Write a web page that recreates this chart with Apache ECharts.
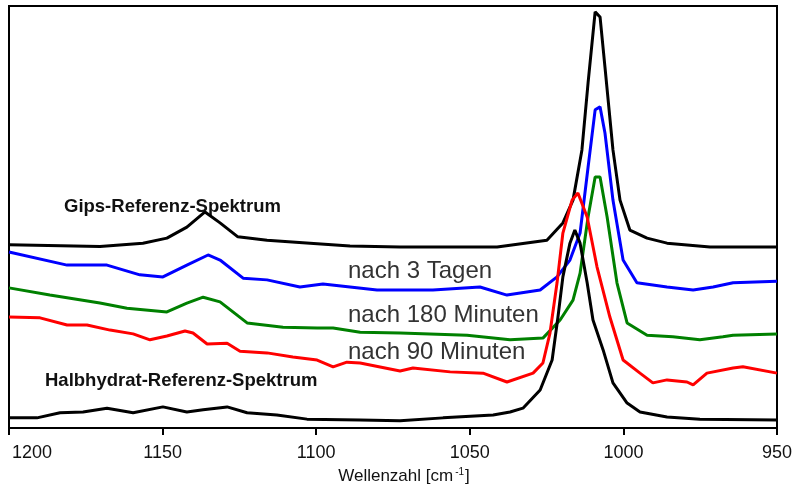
<!DOCTYPE html>
<html>
<head>
<meta charset="utf-8">
<style>
  html, body { margin: 0; padding: 0; background: #fff; }
  #chart { width: 792px; height: 491px; }
</style>
<script src="https://cdn.jsdelivr.net/npm/echarts@6/dist/echarts.min.js"></script>
</head>
<body>
<div id="chart"></div>
<script>
/* IR-Spektren Gips / Halbhydrat - Wellenzahl vs. Intensitaet (willk. Einheiten, 0..100) */
const xTicks = [1200, 1150, 1100, 1050, 1000, 950];

// Gips-Referenz-Spektrum (oben, schwarz)
const gipsWn = [1200, 1170.4, 1156.4, 1148.6, 1142.1, 1136.2, 1131.3, 1125.5, 1116.0, 1102.0, 1089.0, 1072.7, 1041.1, 1024.9, 1019.7, 1016.4, 1013.5, 1011.5, 1009.2, 1007.6, 1006.0, 1003.4, 1001.1, 997.9, 992.3, 985.8, 971.8, 950];
const gipsVal = [43.4, 43.0, 43.8, 45.0, 47.6, 51.2, 48.6, 45.3, 44.5, 43.8, 43.1, 42.9, 42.9, 44.5, 48.6, 54.0, 65.9, 81.8, 98.6, 97.4, 85.5, 65.9, 54.0, 46.9, 45.0, 43.8, 42.9, 42.9];

// nach 3 Tagen (blau)
const tage3Wn = [1200, 1181.1, 1168.1, 1157.4, 1149.9, 1142.1, 1135.2, 1131.3, 1123.8, 1116.0, 1105.3, 1097.8, 1089.0, 1080.2, 1072.7, 1062.0, 1046.7, 1037.9, 1027.1, 1021.6, 1017.4, 1014.1, 1011.5, 1009.2, 1007.6, 1006.0, 1003.4, 1000.1, 995.6, 985.8, 977.3, 970.8, 964.3, 950];
const tage3Val = [41.7, 38.6, 38.6, 36.3, 35.8, 38.6, 41.0, 39.8, 35.5, 35.1, 33.4, 34.1, 33.4, 32.7, 32.7, 32.7, 33.4, 31.5, 32.7, 35.8, 39.8, 46.2, 61.8, 75.4, 76.1, 69.9, 54.0, 39.8, 34.4, 33.4, 32.7, 33.4, 34.4, 34.8];

// nach 180 Minuten (gruen)
const min180Wn = [1200, 1186.7, 1170.4, 1161.6, 1148.6, 1142.1, 1136.8, 1131.3, 1122.5, 1110.8, 1099.7, 1094.5, 1085.7, 1072.7, 1050.9, 1036.9, 1026.2, 1020.6, 1016.4, 1014.1, 1011.5, 1009.2, 1007.6, 1005.3, 1002.1, 998.8, 992.3, 983.9, 975.1, 967.6, 964.3, 950];
const min180Val = [33.2, 31.5, 29.6, 28.4, 27.5, 29.6, 31.0, 29.9, 24.9, 23.9, 23.7, 23.7, 22.7, 22.5, 22.0, 20.9, 21.3, 25.6, 30.3, 36.7, 50.0, 59.5, 59.5, 50.0, 34.4, 24.9, 22.0, 21.6, 20.9, 21.6, 22.0, 22.3];

// nach 90 Minuten (rot)
const min90Wn = [1200, 1189.9, 1181.1, 1174.6, 1167.1, 1159.6, 1154.1, 1148.6, 1142.7, 1140.1, 1135.5, 1129.0, 1124.8, 1116.0, 1107.6, 1099.7, 1094.5, 1090.0, 1085.7, 1072.7, 1068.5, 1056.4, 1045.7, 1037.9, 1029.4, 1026.2, 1023.9, 1021.6, 1019.7, 1016.7, 1014.8, 1011.8, 1008.6, 1004.4, 1000.1, 994.6, 990.4, 985.8, 979.3, 977.3, 972.8, 964.3, 961.1, 950];
const min90Val = [26.3, 26.1, 24.4, 24.4, 23.2, 22.3, 20.9, 21.8, 23.0, 22.5, 19.9, 20.1, 18.2, 17.8, 16.8, 16.1, 14.5, 15.6, 15.4, 13.5, 14.2, 13.3, 13.0, 10.9, 13.0, 15.4, 22.5, 34.4, 46.2, 54.0, 55.7, 50.0, 38.2, 26.3, 16.1, 13.0, 10.7, 11.4, 10.9, 10.2, 13.0, 14.2, 14.5, 13.0];

// Halbhydrat-Referenz-Spektrum (unten, schwarz)
const halbWn = [1200, 1190.9, 1183.4, 1175.9, 1168.1, 1159.6, 1149.9, 1142.1, 1136.8, 1129.0, 1122.5, 1112.8, 1103.0, 1085.7, 1072.7, 1058.7, 1042.4, 1036.9, 1032.7, 1027.1, 1023.2, 1021.3, 1019.7, 1017.4, 1015.8, 1014.1, 1011.8, 1009.9, 1006.6, 1003.4, 998.8, 994.6, 985.8, 975.1, 950];
const halbVal = [2.4, 2.4, 3.6, 3.8, 4.7, 3.6, 5.0, 3.8, 4.3, 5.0, 3.6, 3.1, 2.1, 1.9, 1.7, 2.4, 3.1, 3.8, 4.7, 9.0, 16.1, 26.3, 35.8, 43.8, 46.9, 43.8, 34.4, 25.6, 18.5, 10.7, 5.9, 3.8, 2.6, 2.1, 1.9];

const zip = (xs, ys) => xs.map((x, i) => [x, ys[i]]);
const FONT = '"Liberation Sans", Arial, sans-serif';

const chart = echarts.init(document.getElementById('chart'));

function line(name, xs, ys, color) {
  return {
    name, type: 'line', data: zip(xs, ys), showSymbol: false, smooth: false,
    lineStyle: { width: 3, color: color }, color: color, silent: true,
  };
}

chart.setOption({
  animation: false,
  grid: {
    left: 9, right: 15, top: 6, bottom: 63, outerBoundsMode: 'none', containLabel: false,
    show: true, borderColor: '#000', borderWidth: 2,
  },
  xAxis: {
    type: 'value', inverse: true, min: 950, max: 1200, interval: 50,
    name: 'Wellenzahl [cm{sup|-1}]', nameLocation: 'middle', nameGap: 33,
    nameTextStyle: {
      fontFamily: FONT, fontSize: 17, color: '#111', padding: [0, 0, 0, 22],
      rich: { sup: { fontFamily: FONT, fontSize: 10, color: '#111', verticalAlign: 'top', padding: [0, 1, 8, 2] } },
    },
    axisLine: { show: true, lineStyle: { color: '#000', width: 2 } },
    axisTick: { show: true, inside: false, length: 7, lineStyle: { color: '#000', width: 2 } },
    axisLabel: {
      fontFamily: FONT, fontSize: 18, color: '#111', margin: 16,
      formatter: (v) => (v === xTicks[0] ? '{first|' + v + '}' : (xTicks.includes(v) ? String(v) : '')),
      rich: { first: { fontFamily: FONT, fontSize: 18, color: '#111', padding: [0, 0, 0, 46] } },
    },
    splitLine: { show: false },
  },
  yAxis: { type: 'value', min: 0, max: 100, show: false },
  graphic: [
    { type: 'text', left: 64, top: 197, style: { text: 'Gips-Referenz-Spektrum', font: 'bold 18.5px ' + FONT, fill: '#111' } },
    { type: 'text', left: 45, top: 371, style: { text: 'Halbhydrat-Referenz-Spektrum', font: 'bold 18.5px ' + FONT, fill: '#111' } },
    { type: 'text', left: 348, top: 259, style: { text: 'nach 3 Tagen', font: '24px ' + FONT, fill: '#333' } },
    { type: 'text', left: 348, top: 303, style: { text: 'nach 180 Minuten', font: '24px ' + FONT, fill: '#333' } },
    { type: 'text', left: 348, top: 340, style: { text: 'nach 90 Minuten', font: '24px ' + FONT, fill: '#333' } },
  ],
  series: [
    line('Gips-Referenz-Spektrum', gipsWn, gipsVal, '#000000'),
    line('nach 3 Tagen', tage3Wn, tage3Val, '#0000ff'),
    line('nach 180 Minuten', min180Wn, min180Val, '#008000'),
    line('nach 90 Minuten', min90Wn, min90Val, '#ff0000'),
    line('Halbhydrat-Referenz-Spektrum', halbWn, halbVal, '#000000'),
  ],
});
</script>
</body>
</html>
